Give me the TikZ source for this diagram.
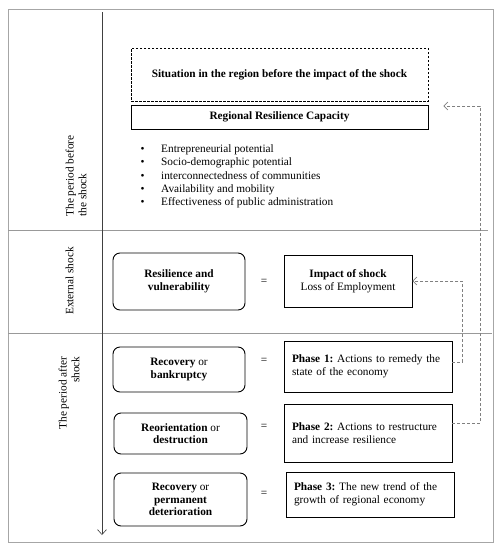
\documentclass[tikz,border=0pt]{standalone}
\usepackage{fontspec}
\setmainfont{Liberation Serif}
\usetikzlibrary{arrows.meta,positioning}
\frenchspacing
\begin{document}
\begin{tikzpicture}[
        x=1pt, y=-1pt,
        font=\fontsize{11.3}{12.7}\selectfont,
        frame/.style={draw=gray!70, line width=0.8pt},
        sep/.style={draw=gray!80, line width=0.8pt},
        roundbox/.style={draw, line width=0.9pt, rounded corners=7pt, align=center, inner sep=0pt},
        phasebox/.style={draw, line width=0.9pt, align=left, inner sep=0pt},
        link/.style={-{Straight Barb[length=4pt,width=8pt]}, gray, dashed, dash pattern=on 3pt off 2pt, line width=0.6pt},
        side/.style={rotate=90, align=center}
    ]
        \useasboundingbox (0,0) rectangle (503,550);

        % Marco y separadores
        \draw[frame] (8,9) rectangle (493,542);
        \draw[sep] (8,230) -- (488,230);
        \draw[sep] (8,333) -- (492,333);

        % Eje del tiempo
        \coordinate (tstart) at (102,12);
        \coordinate (tend) at (102,535);
        \draw[-{Straight Barb[length=5pt,width=9pt]}, black!75, line width=0.6pt] (tstart) -- (tend);

        % Etiquetas de los periodos
        \node[side, align=left] (before) at (76,176) {The period before\\the shock};
        \node[side] (external) at (69.5,281) {External shock};
        \node[side, align=right] (after) at (69,393) {The period after\\shock};

        % Antes del shock
        \node[draw, dashed, dash pattern=on 2.5pt off 1.5pt, line width=0.9pt, minimum width=297pt, minimum height=53pt, inner sep=0pt]
            (situation) at (279.5,74.5) {\textbf{Situation in the region before the impact of the shock}};
        \node[draw, line width=0.9pt, minimum width=297pt, minimum height=24pt, inner sep=0pt]
            (capacity) at (279.5,117) {\textbf{Regional Resilience Capacity}};
        \node[anchor=north west, align=left, font=\fontsize{11.3}{13.3}\selectfont, inner sep=0pt] (factors) at (140.5,144.5)
            {\makebox[20.5pt][l]{\textbullet}Entrepreneurial potential\\
             \makebox[20.5pt][l]{\textbullet}Socio-demographic potential\\
             \makebox[20.5pt][l]{\textbullet}interconnectedness of communities\\
             \makebox[20.5pt][l]{\textbullet}Availability and mobility\\
             \makebox[20.5pt][l]{\textbullet}Effectiveness of public administration};

        % Shock externo
        \node[roundbox, minimum width=132pt, minimum height=57pt] (resil) at (179,281.5)
            {\textbf{Resilience and}\\\textbf{vulnerability}};
        \node (eq0) at (264,282) {=};
        \node[draw, line width=0.9pt, align=center, inner sep=0pt, minimum width=128pt, minimum height=52pt] (impact) at (348,281)
            {\textbf{Impact of shock}\\Loss of Employment};

        % Despues del shock
        \node[roundbox, minimum width=132pt, minimum height=45pt] (rec1) at (179,369.5)
            {\textbf{Recovery} or\\\textbf{bankruptcy}};
        \node (eq1) at (264,361) {=};
        \node[phasebox, text width=152pt, minimum width=168pt, minimum height=51pt] (ph1) at (368,366.5)
            {\textbf{Phase 1:} Actions to remedy the\\state of the economy};

        \node[roundbox, minimum width=133pt, minimum height=41pt] (reor) at (180.5,433.5)
            {\textbf{Reorientation} or\\\textbf{destruction}};
        \node (eq2) at (264,427) {=};
        \node[phasebox, text width=152pt, minimum width=168pt, minimum height=58pt] (ph2) at (368,433)
            {\textbf{Phase 2:} Actions to restructure\\and increase resilience};

        \node[roundbox, minimum width=133pt, minimum height=53pt] (rec3) at (180.5,499.5)
            {\textbf{Recovery} or\\\textbf{permanent}\\\textbf{deterioration}};
        \node (eq3) at (264,494) {=};
        \node[phasebox, text width=152pt, minimum width=168pt, minimum height=45pt] (ph3) at (370,494.5)
            {\textbf{Phase 3:} The new trend of the\\growth of regional economy};

        % Retroalimentacion
        \coordinate[right=15pt of capacity.east] (ret);
        \draw[link] ([yshift=10pt]ph2.east) -- ++(28,0) |- ([yshift=11pt]ret);
        \draw[link] ([yshift=4.5pt]ph1.east) -- ++(10,0) |- (impact.east);

    \end{tikzpicture}
\end{document}
